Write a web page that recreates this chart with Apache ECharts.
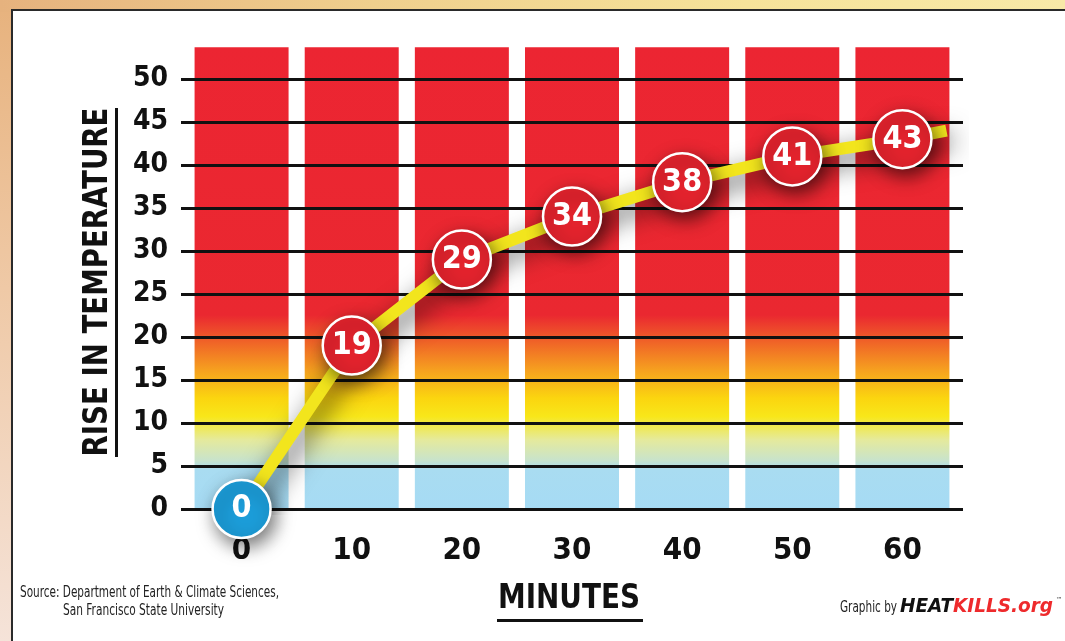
<!DOCTYPE html>
<html>
<head>
<meta charset="utf-8">
<script src="https://cdn.jsdelivr.net/npm/echarts@6/dist/echarts.min.js"></script>
<style>
html, body { margin: 0; padding: 0; }
#wrap { position: relative; width: 1065px; height: 641px; overflow: hidden;
  background: linear-gradient(to bottom, #e7b27d 0%, #efc9a6 45%, #f5e3d9 100%); }
#topstrip { position: absolute; left: 0; top: 0; width: 1065px; height: 12px;
  background: linear-gradient(to right, #e6b27e 0%, #efcf8d 35%, #f6e39a 70%, #f8e9a8 100%); }
#panel { position: absolute; left: 11px; top: 9px; width: 1100px; height: 700px;
  background: #fff; border: 2px solid #2a2a2a; }
#chart { position: absolute; left: 0; top: 0; width: 1065px; height: 641px; }
</style>
</head>
<body>
<div id="wrap">
  <div id="topstrip"></div>
  <div id="panel"></div>
  <div id="chart"></div>
</div>
<script>
// readings
const minutes = [0, 10, 20, 30, 40, 50, 60];
const rise = [0, 19, 29, 34, 38, 41, 43];
const columnHeights = [53.7, 53.7, 53.7, 53.7, 53.7, 53.7, 53.7];
const lineTail = [64, 44]; // the yellow line runs on a little past the last dot
const yTicks = { min: 0, max: 50, step: 5 };

const FONT = '"Liberation Sans Narrow", "DejaVu Sans Condensed", sans-serif';

const chart = echarts.init(document.getElementById('chart'));

// squeeze a text to a given width (the original uses a very narrow face)
const measureCtx = document.createElement('canvas').getContext('2d');
const fitScale = (text, font, width) => {
    measureCtx.font = font;
    return width / measureCtx.measureText(text).width;
};

const barFill = new echarts.graphic.LinearGradient(0, 0, 0, 1, [
    { offset: 0, color: '#ec2532' },
    { offset: 0.58, color: '#ea2830' },
    { offset: 0.64, color: '#f06527' },
    { offset: 0.70, color: '#f6a11f' },
    { offset: 0.76, color: '#fbd50f' },
    { offset: 0.80, color: '#f8e71a' },
    { offset: 0.85, color: '#e5ea9c' },
    { offset: 0.895, color: '#c8e3cc' },
    { offset: 0.915, color: '#a9dcf1' },
    { offset: 1, color: '#a6dbf4' }
]);

const lineData = rise.map((v, i) => {
    const item = { value: [minutes[i], v] };
    if (v === 0) item.itemStyle = { color: '#1c9dd9' };
    return item;
});
lineData.push({ value: lineTail, symbol: 'none', label: { show: false } });

const titleFont = 'bold 34px ' + FONT;
const smallFont = '15px ' + FONT;
const brandFont = 'italic 900 19px ' + FONT;

const option = {
    animation: false,
    grid: { left: 181, right: 102, top: 79, bottom: 132 },
    xAxis: {
        type: 'value',
        min: -5.5,
        max: 65.5,
        axisLine: { show: false },
        axisTick: { show: false },
        splitLine: { show: false },
        axisLabel: {
            customValues: minutes,
            margin: 26,
            color: '#111',
            fontFamily: FONT,
            fontWeight: 'bold',
            fontSize: 31
        }
    },
    yAxis: {
        type: 'value',
        min: yTicks.min,
        max: yTicks.max,
        interval: yTicks.step,
        z: 3,
        axisLine: { show: false },
        axisTick: { show: false },
        splitLine: { lineStyle: { color: '#111', width: 3 } },
        axisLabel: {
            margin: 13,
            color: '#111',
            fontFamily: FONT,
            fontWeight: 'bold',
            fontSize: 28
        }
    },
    series: [
        {
            type: 'bar',
            z: 1,
            barWidth: 94,
            clip: false,
            silent: true,
            itemStyle: { color: barFill },
            data: minutes.map((m, i) => [m, columnHeights[i]])
        },
        {
            type: 'line',
            z: 5,
            symbol: 'circle',
            symbolSize: 58,
            lineStyle: {
                color: '#f2e51d',
                width: 12,
                shadowColor: 'rgba(0,0,0,0.7)',
                shadowBlur: 26,
                shadowOffsetX: 5,
                shadowOffsetY: 9
            },
            itemStyle: {
                color: '#e3232d',
                borderColor: '#fff',
                borderWidth: 2.5,
                shadowColor: 'rgba(0,0,0,0.55)',
                shadowBlur: 18,
                shadowOffsetX: 4,
                shadowOffsetY: 7
            },
            label: {
                show: true,
                position: 'inside',
                formatter: p => p.value[1],
                color: '#fff',
                fontFamily: FONT,
                fontWeight: 'bold',
                fontSize: 32
            },
            emphasis: { disabled: true },
            data: lineData
        }
    ],
    graphic: [
        {
            type: 'text',
            x: 98, y: 282,
            rotation: Math.PI / 2,
            scaleX: fitScale('RISE IN TEMPERATURE', titleFont, 349),
            z: 10,
            style: {
                text: 'RISE IN TEMPERATURE',
                font: titleFont,
                fill: '#111',
                align: 'center',
                verticalAlign: 'middle'
            }
        },
        { type: 'rect', z: 10, shape: { x: 115, y: 108, width: 3, height: 349 }, style: { fill: '#111' } },
        {
            type: 'text',
            x: 569, y: 599,
            scaleX: fitScale('MINUTES', titleFont, 142),
            z: 10,
            style: {
                text: 'MINUTES',
                font: titleFont,
                fill: '#111',
                align: 'center',
                verticalAlign: 'middle'
            }
        },
        { type: 'rect', z: 10, shape: { x: 497, y: 619, width: 146, height: 3 }, style: { fill: '#111' } },
        {
            type: 'text',
            x: 20, y: 593,
            scaleX: fitScale('Source: Department of Earth & Climate Sciences,', smallFont, 259),
            z: 10,
            style: {
                text: 'Source: Department of Earth & Climate Sciences,',
                font: smallFont,
                fill: '#222',
                verticalAlign: 'middle'
            }
        },
        {
            type: 'text',
            x: 63, y: 611,
            scaleX: fitScale('San Francisco State University', smallFont, 161),
            z: 10,
            style: {
                text: 'San Francisco State University',
                font: smallFont,
                fill: '#222',
                verticalAlign: 'middle'
            }
        },
        {
            type: 'text',
            x: 840, y: 608,
            scaleX: fitScale('Graphic by', smallFont, 57),
            z: 10,
            style: { text: 'Graphic by', font: smallFont, fill: '#222', verticalAlign: 'middle' }
        },
        {
            type: 'text',
            x: 900, y: 607,
            scaleX: fitScale('HEATKILLS.org', brandFont, 153),
            z: 10,
            style: {
                text: '{a|HEAT}{b|KILLS.org}',
                verticalAlign: 'middle',
                rich: {
                    a: { font: brandFont, fill: '#111' },
                    b: { font: brandFont, fill: '#ee2a2c' }
                }
            }
        },
        {
            type: 'text',
            x: 1056, y: 600,
            z: 10,
            style: { text: '™', font: '7px ' + FONT, fill: '#444', verticalAlign: 'middle' }
        }
    ]
};

chart.setOption(option);
</script>
</body>
</html>
